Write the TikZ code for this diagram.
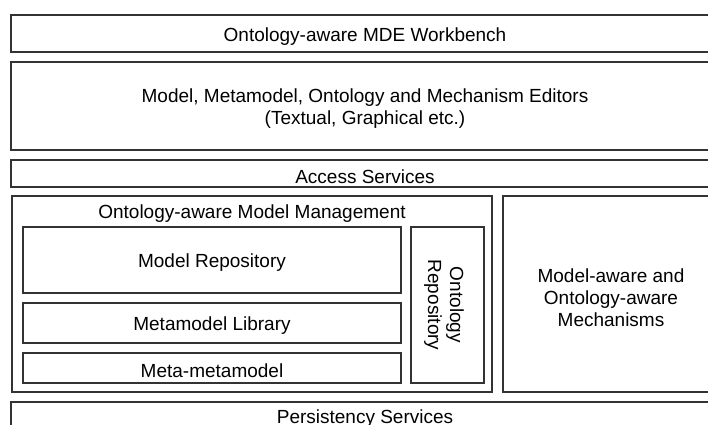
\documentclass[tikz,border=0pt]{standalone}
\usepackage{fontspec}
\setmainfont{Liberation Sans}
\begin{document}
\begin{tikzpicture}[x=1pt,y=-1pt,
  layer/.style={draw=black!80, line width=1.3pt, rectangle, inner sep=0pt},
  txt/.style={inner sep=0pt, align=center, font=\fontsize{19}{22}\selectfont, yshift=-2.8pt}]
\useasboundingbox (0,0) rectangle (708,424);
\node[layer, minimum width=708, minimum height=37] (wb) at (365,33.5) {};
\node[txt] (wbt) at (wb.center) {Ontology-aware MDE Workbench};
\node[layer, minimum width=708, minimum height=88] (ed) at (365,106) {};
\node[txt] (edt) at (ed.center) {Model, Metamodel, Ontology and Mechanism Editors\\(Textual, Graphical etc.)};
\node[layer, minimum width=708, minimum height=27] (acc) at (365,173.5) {};
\node[txt] (acct) at (acc.center) {Access Services};
\node[layer, minimum width=480, minimum height=196] (omm) at (252,294) {};
\node[txt] (ommt) at (252,211) {Ontology-aware Model Management};
\node[layer, minimum width=378, minimum height=66] (mr) at (212,260) {};
\node[txt] (mrt) at (mr.center) {Model Repository};
\node[layer, minimum width=378, minimum height=40] (ml) at (212,323) {};
\node[txt] (mlt) at (ml.center) {Metamodel Library};
\node[layer, minimum width=378, minimum height=30] (mmm) at (212,368) {};
\node[txt] (mmmt) at (mmm.center) {Meta-metamodel};
\node[layer, minimum width=73, minimum height=156] (or) at (447.5,305) {};
\node[txt, yshift=2.8pt, rotate=-90] (ort) at ([xshift=-3.5pt]or.center) {Ontology\\Repository};
\node[layer, minimum width=216, minimum height=196] (mech) at (611,294) {};
\node[txt] (mecht) at ([yshift=-1pt]mech.center) {Model-aware and\\Ontology-aware\\Mechanisms};
\node[layer, minimum width=708, minimum height=27] (ps) at (365,415.5) {};
\node[txt] (pst) at (ps.center) {Persistency Services};
\end{tikzpicture}
\end{document}
